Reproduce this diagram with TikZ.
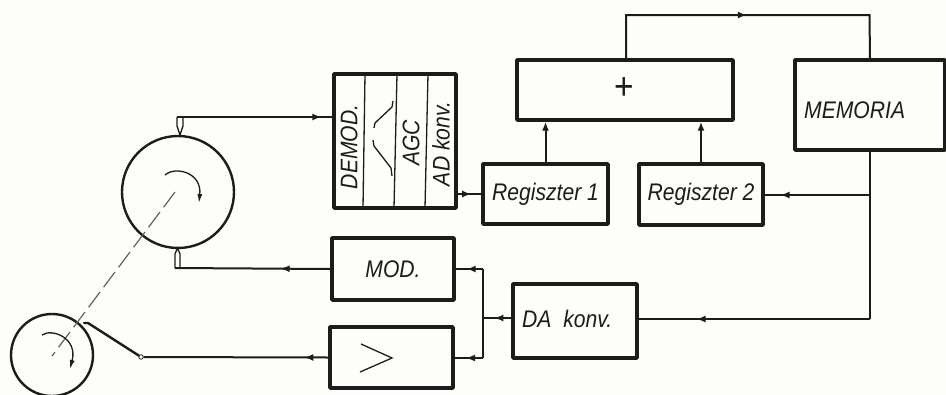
\documentclass[tikz,border=0pt]{standalone}
\usepackage{fontspec}
\setmainfont{Liberation Sans}
\newfontfamily\lett[FakeStretch=0.88,ItalicFont={Liberation Sans Italic}]{Liberation Sans}
\usetikzlibrary{arrows.meta,decorations.markings}
\definecolor{paper}{HTML}{FDFDF9}
\definecolor{ink}{HTML}{1C1C1C}
\tikzset{
  blockbox/.style={draw=ink,line width=3.4pt,line join=round},
  txt/.style={text=ink,inner sep=0pt,font=\lett\itshape\fontsize{24}{24}\selectfont},
  wire/.style={draw=ink,line width=2pt},
  fine/.style={draw=ink,line width=1.3pt},
  midtip/.style={postaction={decorate},decoration={markings,mark=at position #1 with {\arrow[ink]{Latex[length=9pt,width=7pt]}}}},
  disc/.style={draw=ink,line width=2.4pt,circle,inner sep=0pt},
}
\begin{document}
\begin{tikzpicture}[x=1pt,y=-1pt]
\path[use as bounding box,fill=paper] (0,0) rectangle (946,394);
% boxes
\node[blockbox,minimum width=122pt,minimum height=134pt,inner sep=0pt] (dem) at (395,141) {};
\coordinate (dr) at (456,194);
\draw[fine] (365,74) -- (363,208) (397,74) -- (394,208) (428,74) -- (425,208);
\node[txt,rotate=90] at (349,147) {DEMOD.};
\node[txt,rotate=90] at (411,143) {AGC};
\node[txt,rotate=90] at (441,144) {AD konv.};
\draw[fine] (374,128) -- (375,123) -- (392,107) -- (393,101);
\draw[fine] (373,140) -- (374,146) -- (391,168) -- (392,176);
\node[blockbox,minimum width=125pt,minimum height=60pt,txt] (reg1) at (545.5,194) {Regiszter 1};
\node[blockbox,minimum width=216pt,minimum height=60pt,inner sep=0pt] (plus) at (625,90) {};
\node[txt,font=\lett\fontsize{38}{38}\selectfont] at (624,89) {+};
\node[blockbox,minimum width=150pt,minimum height=90pt,inner sep=0pt] (mem) at (870,105) {};
\node[txt,anchor=west] at (804,110) {MEMORIA};
\node[blockbox,minimum width=124pt,minimum height=61pt,txt] (reg2) at (701,194.5) {Regiszter 2};
\node[blockbox,minimum width=122pt,minimum height=62pt,txt] (mod) at (393,269) {MOD.};
\node[blockbox,minimum width=123pt,minimum height=61pt,inner sep=0pt] (amp) at (391.5,357.5) {};
\draw[fine] (361,344) -- (392,358) -- (360,372);
\node[blockbox,minimum width=124pt,minimum height=74pt,inner sep=0pt] (da) at (575,321) {};
\node[txt,anchor=west] at (522,319) {DA\ \ konv.};
% discs
\node[disc,minimum size=112pt] (d1) at (178,192) {};
\node[disc,minimum size=82pt] (d2) at (52,355) {};
\draw[draw=ink!70,line width=1.2pt,dash pattern=on 19pt off 6pt] (175,192) -- (52,356);
\draw[fine,-{Latex[length=9pt,width=5pt]}] (165,175) .. controls (175,166) and (202,172) .. (199,203);
\draw[fine,-{Latex[length=9pt,width=5pt]}] (42,335) .. controls (52,328) and (78,338) .. (70,369);
% heads
\draw[fine] (177,117) -- (177,126) -- (180,135) -- (183,126) -- (183,117);
\draw[fine] (175,268) -- (175,254) -- (177.5,248) -- (180,254) -- (180,268);
\draw[wire,midtip=0.93] (177,117) -- (dem.west |- 177,117);
\draw[wire,midtip=0.32] (mod.west) -- (175,268);
\node[draw=ink,line width=.8pt,circle,inner sep=0pt,minimum size=4.5pt,fill=paper] (pv) at (141,357) {};
\draw[wire,midtip=0.13] (amp.west) -- (pv);
\draw[draw=ink,line width=2.4pt,line cap=round] (pv) -- (88,323) -- (84,323);
% connectors
\draw[wire,midtip=0.6] (dr) -- (reg1.west |- dr);
\draw[wire,-{Latex[length=9pt,width=7pt]}] (reg1.north) -- (reg1.north |- plus.south);
\draw[wire,-{Latex[length=9pt,width=7pt]}] (reg2.north) -- (reg2.north |- plus.south);
\draw[wire,midtip=0.5] (626,60) -- (626,15) -- (869.5,15) -- (mem.north);
\draw[wire] (mem.south) -- (870,319);
\draw[wire,midtip=0.85] (870,195) -- (reg2.east |- 870,195);
\draw[wire,midtip=0.75] (870,319) -- (da.east |- 870,319);
\draw[wire,midtip=0.6] (da.west |- 0,318) -- (483,318);
\draw[wire] (483,269) -- (483,358);
\draw[wire,midtip=0.6] (483,269) -- (mod.east |- 483,269);
\draw[wire,midtip=0.6] (483,358) -- (amp.east |- 483,358);
\end{tikzpicture}
\end{document}
